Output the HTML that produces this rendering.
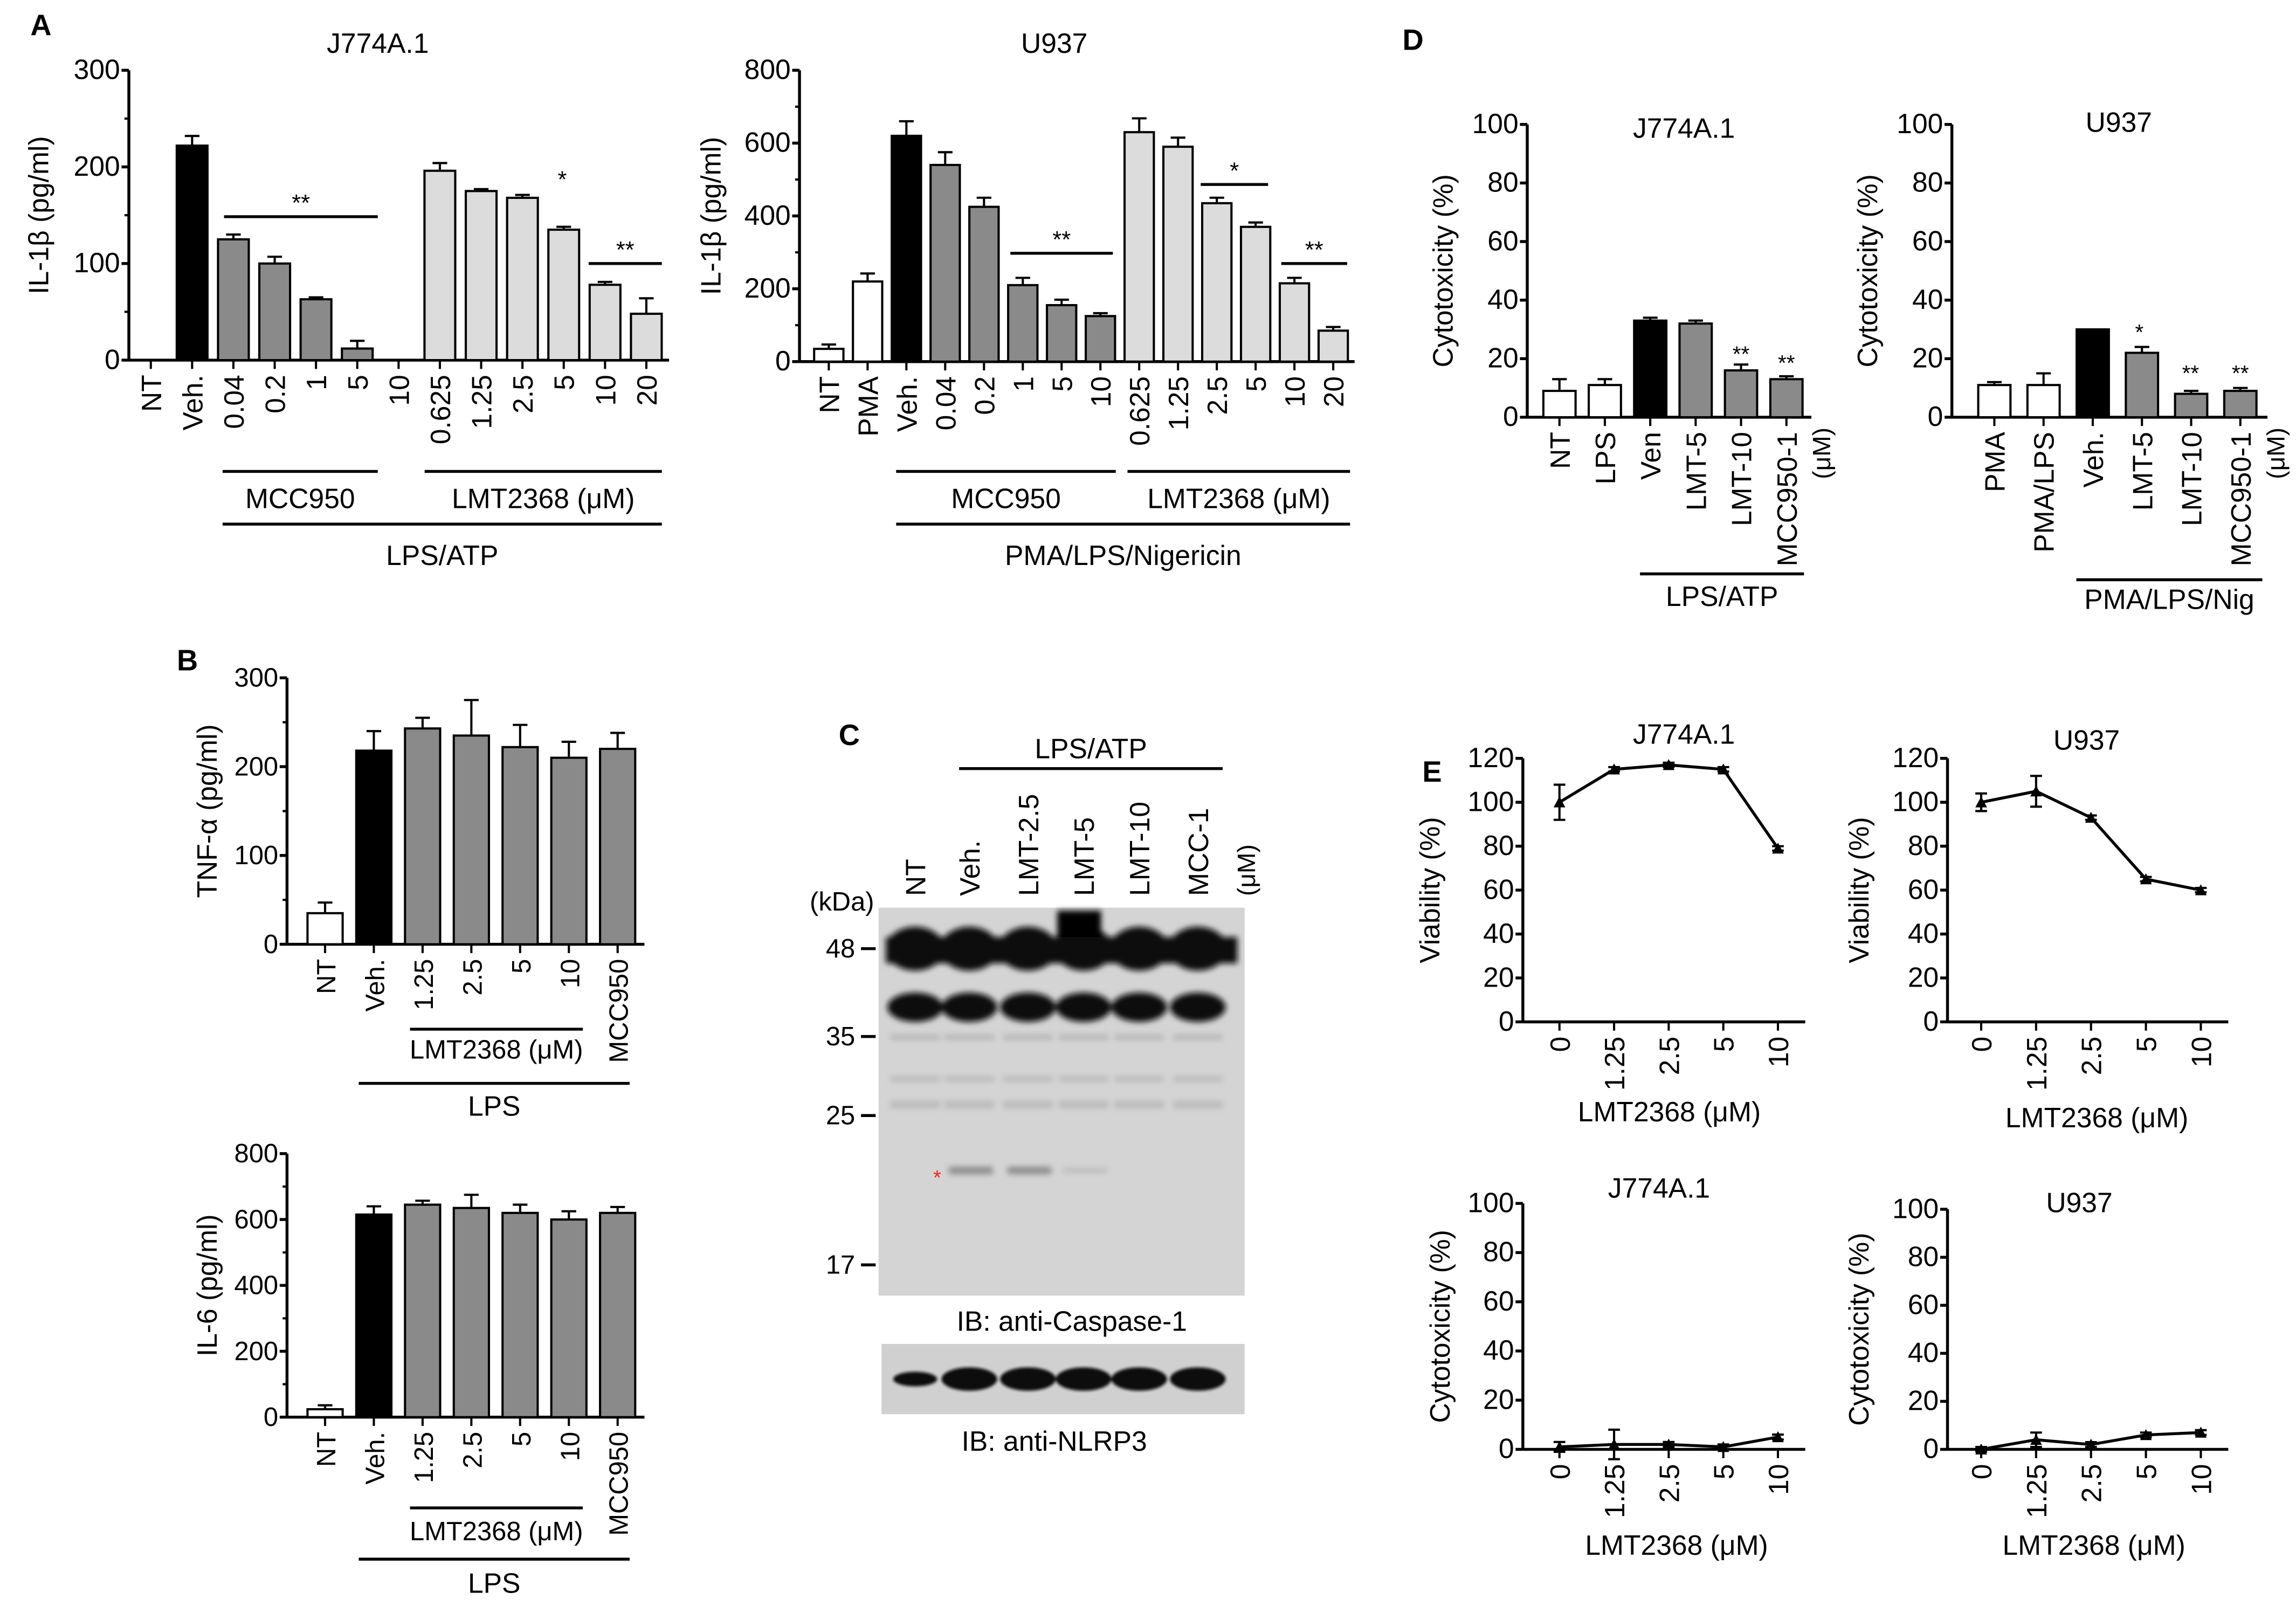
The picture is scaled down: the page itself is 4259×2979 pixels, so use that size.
<!DOCTYPE html>
<html><head><meta charset="utf-8"><style>
html,body{margin:0;padding:0;background:#fff;}
svg{display:block;}
text{font-family:"Liberation Sans",sans-serif;fill:#000;}
</style></head><body>
<svg id="fig" width="4259" height="2979" viewBox="0 0 1568 1097" preserveAspectRatio="none" xmlns="http://www.w3.org/2000/svg">
<defs>
<filter id="blur2"><feGaussianBlur stdDeviation="2"/></filter>
<filter id="blur1"><feGaussianBlur stdDeviation="1"/></filter>
</defs>
</svg>
<script>
// ---------- DATA ----------
const aJCats = ["NT","Veh.","0.04","0.2","1","5","10","0.625","1.25","2.5","5","10","20"];
const aJVals = [0,222,125,100,63,12,0,196,175,168,135,78,48];
const aJErr = [0,10,5,7,2,8,0,8,2,3,3,3,16];
const aJFill = ["w","k","g","g","g","g","g","l","l","l","l","l","l"];
const aJTicks = [0,100,200,300];

const aUCats = ["NT","PMA","Veh.","0.04","0.2","1","5","10","0.625","1.25","2.5","5","10","20"];
const aUVals = [35,220,620,540,425,210,155,125,630,590,435,370,215,85];
const aUErr = [12,22,40,35,25,20,15,8,38,25,15,12,15,10];
const aUFill = ["w","w","k","g","g","g","g","g","l","l","l","l","l","l"];
const aUTicks = [0,200,400,600,800];

const dJCats = ["NT","LPS","Ven","LMT-5","LMT-10","MCC950-1"];
const dJVals = [9,11,33,32,16,13];
const dJErr = [4,2,1,1,2,1];
const dJFill = ["w","w","k","g","g","g"];
const dUCats = ["PMA","PMA/LPS","Veh.","LMT-5","LMT-10","MCC950-1"];
const dUVals = [11,11,30,22,8,9];
const dUErr = [1,4,0,2,1,1];
const dUFill = ["w","w","k","g","g","g"];
const dTicks = [0,20,40,60,80,100];

const bCats = ["NT","Veh.","1.25","2.5","5","10","MCC950"];
const bTnfVals = [35,218,243,235,222,210,220];
const bTnfErr = [12,22,12,40,25,18,18];
const bIl6Vals = [24,615,645,635,620,600,620];
const bIl6Err = [12,25,12,40,25,25,18];
const bFill = ["w","k","g","g","g","g","g"];
const bTnfTicks = [0,100,200,300];
const bIl6Ticks = [0,200,400,600,800];

const eCats = ["0","1.25","2.5","5","10"];
const eViabJ = [100,115,117,115,79];
const eViabJErr = [8,1,1,1,1];
const eViabU = [100,105,93,65,60];
const eViabUErr = [4,7,1,1,1];
const eCytoJ = [1,2,2,1,5];
const eCytoJErr = [2,6,1,1,1];
const eCytoU = [0,4,2,6,7];
const eCytoUErr = [1,3,1,1,1];
const eViabTicks = [0,20,40,60,80,100,120];
const eCytoTicks = [0,20,40,60,80,100];

// ---------- HELPERS ----------
const svg = document.getElementById('fig');
const NS = "http://www.w3.org/2000/svg";
function mk(tag, attrs, parent){
  const e = document.createElementNS(NS, tag);
  for (const k in attrs) e.setAttribute(k, attrs[k]);
  (parent||svg).appendChild(e);
  return e;
}
function txt(str, x, y, size, opts){
  opts = opts||{};
  const t = mk('text', {x:x, y:y, 'font-size':size, 'text-anchor':opts.anchor||'middle'}, opts.parent);
  if (opts.rot) t.setAttribute('transform', 'rotate(' + opts.rot + ' ' + x + ' ' + y + ')');
  if (opts.bold) t.setAttribute('font-weight', 'bold');
  if (opts.fill) t.setAttribute('style', 'fill:' + opts.fill);
  t.textContent = str;
  return t;
}
const FILLS = {w:"#ffffff", k:"#000000", g:"#8a8a8a", l:"#dcdcdc"};

function barChart(c){
  const g = mk('g', {});
  
  
  const ys = v => c.y0 - (v / c.max) * (c.y0 - c.yTop);
  const xs = i => c.x0 + i * c.step;
  const xEnd = xs(c.cats.length - 1) + c.step * 0.55;
  const ya = mk('line', {x1:c.ax, y1:c.y0, x2:c.ax, y2:c.yTop, stroke:'#000', 'stroke-width':2}, g);
  
  
  const xa = mk('line', {x1:c.ax, y1:c.y0, x2:xEnd, y2:c.y0, stroke:'#000', 'stroke-width':2}, g);
  
  
  c.ticks.forEach(t => {
    const y = ys(t);
    mk('line', {x1:c.ax-5, y1:y, x2:c.ax, y2:y, stroke:'#000', 'stroke-width':2}, g);
    const tl = txt(String(t), c.ax-6, y+6, c.fs||19, {anchor:'end', parent:g});
    
    
  });
  if (c.minor) c.ticks.slice(0,-1).forEach((t,i) => {
    const y = ys((t + c.ticks[i+1]) / 2);
    mk('line', {x1:c.ax-3, y1:y, x2:c.ax, y2:y, stroke:'#000', 'stroke-width':1.5}, g);
  });
  c.cats.forEach((cat, i) => {
    const x = xs(i), v = c.vals[i], y = ys(v);
    mk('line', {x1:x, y1:c.y0, x2:x, y2:c.y0+6, stroke:'#000', 'stroke-width':1.5}, g);
    if (c.errs[i] > 0 && v > 0) {
      const ey = ys(v + c.errs[i]);
      mk('line', {x1:x, y1:y, x2:x, y2:ey, stroke:'#000', 'stroke-width':1.5}, g);
      mk('line', {x1:x-5, y1:ey, x2:x+5, y2:ey, stroke:'#000', 'stroke-width':1.5}, g);
    }
    if (v > 0) {
      const b = mk('rect', {x:x-c.bw/2, y:y, width:c.bw, height:c.y0-y, fill:FILLS[c.fills[i]], stroke:'#000', 'stroke-width':1.5}, g);
      
      
    }
    const cl = txt(cat, x+7, c.y0+10, c.fs||19, {anchor:'end', rot:-90, parent:g});
    
    
  });
  if (c.title) {
    const tt = txt(c.title, c.titleX, c.titleY, 19, {parent:g});
    
    
  }
  const yl = txt(c.ylab, c.ylabX, (c.y0 + c.yTop)/2, 19, {rot:-90, parent:g});
  
  
  return {g, xs, ys};
}
function bracket(x1, x2, y, label, ly, parent, fs){
  mk('line', {x1:x1, y1:y, x2:x2, y2:y, stroke:'#000', 'stroke-width':2}, parent);
  if (label) {
    const t = txt(label, (x1+x2)/2, ly, fs||19, {parent:parent});
    
    
  }
}
function lineChart(c){
  const g = mk('g', {});
  
  
  const ys = v => c.y0 - (v / c.max) * (c.y0 - c.yTop);
  const xs = i => c.x0 + i * c.step;
  const xEnd = xs(c.cats.length-1) + c.step*0.5;
  const ya = mk('line', {x1:c.ax, y1:c.y0, x2:c.ax, y2:c.yTop, stroke:'#000', 'stroke-width':2}, g);
  
  
  const xa = mk('line', {x1:c.ax, y1:c.y0, x2:xEnd, y2:c.y0, stroke:'#000', 'stroke-width':2}, g);
  
  
  c.ticks.forEach(t => {
    const y = ys(t);
    mk('line', {x1:c.ax-5, y1:y, x2:c.ax, y2:y, stroke:'#000', 'stroke-width':2}, g);
    const tl = txt(String(t), c.ax-6, y+6, 19, {anchor:'end', parent:g});
    
    
  });
  const pts = c.vals.map((v,i) => xs(i) + ',' + ys(v)).join(' ');
  const pl = mk('polyline', {points:pts, fill:'none', stroke:'#000', 'stroke-width':2}, g);
  
  
  c.cats.forEach((cat, i) => {
    const x = xs(i), y = ys(c.vals[i]);
    mk('line', {x1:x, y1:c.y0, x2:x, y2:c.y0+6, stroke:'#000', 'stroke-width':1.5}, g);
    const e = c.errs[i];
    mk('line', {x1:x, y1:ys(c.vals[i]-e), x2:x, y2:ys(c.vals[i]+e), stroke:'#000', 'stroke-width':1.5}, g);
    mk('line', {x1:x-4, y1:ys(c.vals[i]+e), x2:x+4, y2:ys(c.vals[i]+e), stroke:'#000', 'stroke-width':1.5}, g);
    mk('line', {x1:x-4, y1:ys(c.vals[i]-e), x2:x+4, y2:ys(c.vals[i]-e), stroke:'#000', 'stroke-width':1.5}, g);
    const p = mk('polygon', {points:(x-4)+','+(y+3.5)+' '+(x+4)+','+(y+3.5)+' '+x+','+(y-4), fill:'#000'}, g);
    
    
    const cl = txt(cat, x+7, c.y0+10, 19, {anchor:'end', rot:-90, parent:g});
    
    
  });
  const tt = txt(c.title, c.titleX, c.titleY, 19, {parent:g});
  
  
  const yl = txt(c.ylab, c.ylabX, (c.y0+c.yTop)/2, 19, {rot:-90, parent:g});
  
  
  const xl = txt('LMT2368 (μM)', c.xlabX, c.xlabY, 19, {parent:g});
  
  
}
function panelLetter(l, x, y){
  const t = txt(l, x, y, 20, {bold:true});
  
  
}

// ---------- PANEL A ----------
panelLetter('A', 28, 24);
let A1 = barChart({name:'panel-a-j774-chart', cats:aJCats, vals:aJVals, errs:aJErr, fills:aJFill, ticks:aJTicks, max:300,
  ax:88, y0:246, yTop:48, x0:103, step:28.2, bw:21, title:'J774A.1', titleX:258, titleY:36, ylab:'IL-1β (pg/ml)', ylabX:33, minor:true});
bracket(153, 258, 148, '**', 144, A1.g, 16);
txt('*', 384, 128, 16, {parent:A1.g});
bracket(402, 452, 180, '**', 176, A1.g, 16);
bracket(152, 258, 322, 'MCC950', 347, A1.g);
bracket(290, 452, 322, 'LMT2368 (μM)', 347, A1.g);
bracket(152, 452, 358, 'LPS/ATP', 386, A1.g);

let A2 = barChart({name:'panel-a-u937-chart', cats:aUCats, vals:aUVals, errs:aUErr, fills:aUFill, ticks:aUTicks, max:800,
  ax:546, y0:247, yTop:48, x0:566, step:26.5, bw:20, title:'U937', titleX:720, titleY:36, ylab:'IL-1β (pg/ml)', ylabX:492, minor:true});
bracket(690, 760, 173, '**', 169, A2.g, 16);
bracket(820, 866, 126, '*', 122, A2.g, 16);
bracket(875, 920, 180, '**', 176, A2.g, 16);
bracket(612, 762, 322, 'MCC950', 347, A2.g);
bracket(770, 922, 322, 'LMT2368 (μM)', 347, A2.g);
bracket(612, 922, 358, 'PMA/LPS/Nigericin', 386, A2.g);

// ---------- PANEL D ----------
panelLetter('D', 965, 34);
let D1 = barChart({name:'panel-d-j774-chart', cats:dJCats, vals:dJVals, errs:dJErr, fills:dJFill, ticks:dTicks, max:100,
  ax:1043, y0:285, yTop:85, x0:1065, step:31, bw:22, title:'J774A.1', titleX:1150, titleY:94, ylab:'Cytotoxicity (%)', ylabX:992});
txt('**', 1189, 247, 15, {parent:D1.g});
txt('**', 1220, 253, 15, {parent:D1.g});
txt('(μM)', 1250, 292, 17, {anchor:'end', rot:-90, parent:D1.g});
bracket(1120, 1232, 392, 'LPS/ATP', 414, D1.g);

let D2 = barChart({name:'panel-d-u937-chart', cats:dUCats, vals:dUVals, errs:dUErr, fills:dUFill, ticks:dTicks, max:100,
  ax:1333, y0:285, yTop:85, x0:1362, step:33.6, bw:22, title:'U937', titleX:1447, titleY:90, ylab:'Cytotoxicity (%)', ylabX:1282});
txt('*', 1461, 232, 15, {parent:D2.g});
txt('**', 1496, 260, 15, {parent:D2.g});
txt('**', 1530, 260, 15, {parent:D2.g});
txt('(μM)', 1560, 292, 17, {anchor:'end', rot:-90, parent:D2.g});
bracket(1418, 1545, 396, 'PMA/LPS/Nig', 416, D2.g);

// ---------- PANEL B ----------
panelLetter('B', 128, 458);
let B1 = barChart({name:'panel-b-tnf-chart', cats:bCats, vals:bTnfVals, errs:bTnfErr, fills:bFill, ticks:bTnfTicks, max:300,
  ax:196, y0:645, yTop:463, x0:222, step:33.3, bw:24, ylab:'TNF-α (pg/ml)', ylabX:148, fs:18, minor:true});
bracket(280, 398, 703, 'LMT2368 (μM)', 723, B1.g, 18);
bracket(245, 430, 740, 'LPS', 762, B1.g);
let B2 = barChart({name:'panel-b-il6-chart', cats:bCats, vals:bIl6Vals, errs:bIl6Err, fills:bFill, ticks:bIl6Ticks, max:800,
  ax:196, y0:968, yTop:788, x0:222, step:33.3, bw:24, ylab:'IL-6 (pg/ml)', ylabX:148, fs:18, minor:true});
bracket(280, 398, 1030, 'LMT2368 (μM)', 1052, B2.g, 18);
bracket(245, 430, 1065, 'LPS', 1088, B2.g);

// ---------- PANEL C (western blot) ----------
panelLetter('C', 580, 509);
const laneNames = ["NT","Veh.","LMT-2.5","LMT-5","LMT-10","MCC-1"];
const laneX = [625,662,702,740,778,818];
const cg = mk('g', {});


bracket(655, 835, 525, 'LPS/ATP', 518, cg);
laneNames.forEach((n,i) => {
  const t = txt(n, laneX[i]+7, 612, 19, {anchor:'start', rot:-90, parent:cg});
  
  
});
txt('(μM)', 857, 612, 17, {anchor:'start', rot:-90, parent:cg});
txt('(kDa)', 575, 622, 18, {parent:cg});
const blot = mk('rect', {x:600, y:620, width:250, height:265, fill:'#d4d4d4'}, cg);


const bg = mk('g', {filter:'url(#blur2)'}, cg);
laneX.forEach((x,i) => {
  mk('ellipse', {cx:x, cy:648, rx:20, ry:15, fill:'#0a0a0a'}, bg);
  mk('ellipse', {cx:x, cy:688, rx:19, ry:10, fill:'#111'}, bg);
  mk('rect', {x:x-17, y:707, width:34, height:3, fill:'#b0b0b0'}, bg);
  mk('rect', {x:x-17, y:735, width:34, height:4, fill:'#bcbcbc'}, bg);
  mk('rect', {x:x-17, y:752, width:34, height:5, fill:'#bababa'}, bg);
});
mk('rect', {x:722, y:622, width:30, height:25, fill:'#000'}, bg);
mk('rect', {x:605, y:640, width:240, height:18, fill:'#0a0a0a'}, bg);
mk('rect', {x:648, y:797, width:30, height:5, fill:'#8c8c8c'}, bg);
mk('rect', {x:688, y:797, width:30, height:5, fill:'#8c8c8c'}, bg);
mk('rect', {x:726, y:798, width:30, height:3, fill:'#b8b8b8'}, bg);
txt('*', 640, 809, 14, {parent:cg, fill:'#ff2020'});
[[48,648],[35,708],[25,762],[17,864]].forEach(m => {
  mk('line', {x1:588, y1:m[1], x2:598, y2:m[1], stroke:'#000', 'stroke-width':2}, cg);
  const t = txt(String(m[0]), 584, m[1]+6, 18, {anchor:'end', parent:cg});
  
  
});
txt('IB: anti-Caspase-1', 732, 909, 19, {parent:cg});
const blot2 = mk('rect', {x:602, y:918, width:248, height:48, fill:'#d0d0d0'}, cg);


const bg2 = mk('g', {filter:'url(#blur1)'}, cg);
laneX.forEach((x,i) => {
  mk('ellipse', {cx:x, cy:942, rx:(i==0?15:19), ry:(i==0?5:8), fill:'#111'}, bg2);
});
txt('IB: anti-NLRP3', 720, 991, 19, {parent:cg});

// ---------- PANEL E ----------
panelLetter('E', 978, 534);
lineChart({name:'panel-e-viability-j774', cats:eCats, vals:eViabJ, errs:eViabJErr, ticks:eViabTicks, max:120,
  ax:1040, y0:698, yTop:518, x0:1065, step:37.3, title:'J774A.1', titleX:1150, titleY:508, ylab:'Viability (%)', ylabX:983, xlabX:1140, xlabY:766});
lineChart({name:'panel-e-viability-u937', cats:eCats, vals:eViabU, errs:eViabUErr, ticks:eViabTicks, max:120,
  ax:1330, y0:698, yTop:518, x0:1353, step:37.5, title:'U937', titleX:1425, titleY:512, ylab:'Viability (%)', ylabX:1276, xlabX:1432, xlabY:770});
lineChart({name:'panel-e-cytotoxicity-j774', cats:eCats, vals:eCytoJ, errs:eCytoJErr, ticks:eCytoTicks, max:100,
  ax:1040, y0:990, yTop:822, x0:1065, step:37.3, title:'J774A.1', titleX:1133, titleY:818, ylab:'Cytotoxicity (%)', ylabX:990, xlabX:1145, xlabY:1062});
lineChart({name:'panel-e-cytotoxicity-u937', cats:eCats, vals:eCytoU, errs:eCytoUErr, ticks:eCytoTicks, max:100,
  ax:1330, y0:990, yTop:826, x0:1353, step:37.5, title:'U937', titleX:1420, titleY:828, ylab:'Cytotoxicity (%)', ylabX:1276, xlabX:1430, xlabY:1062});
</script>
</body></html>
